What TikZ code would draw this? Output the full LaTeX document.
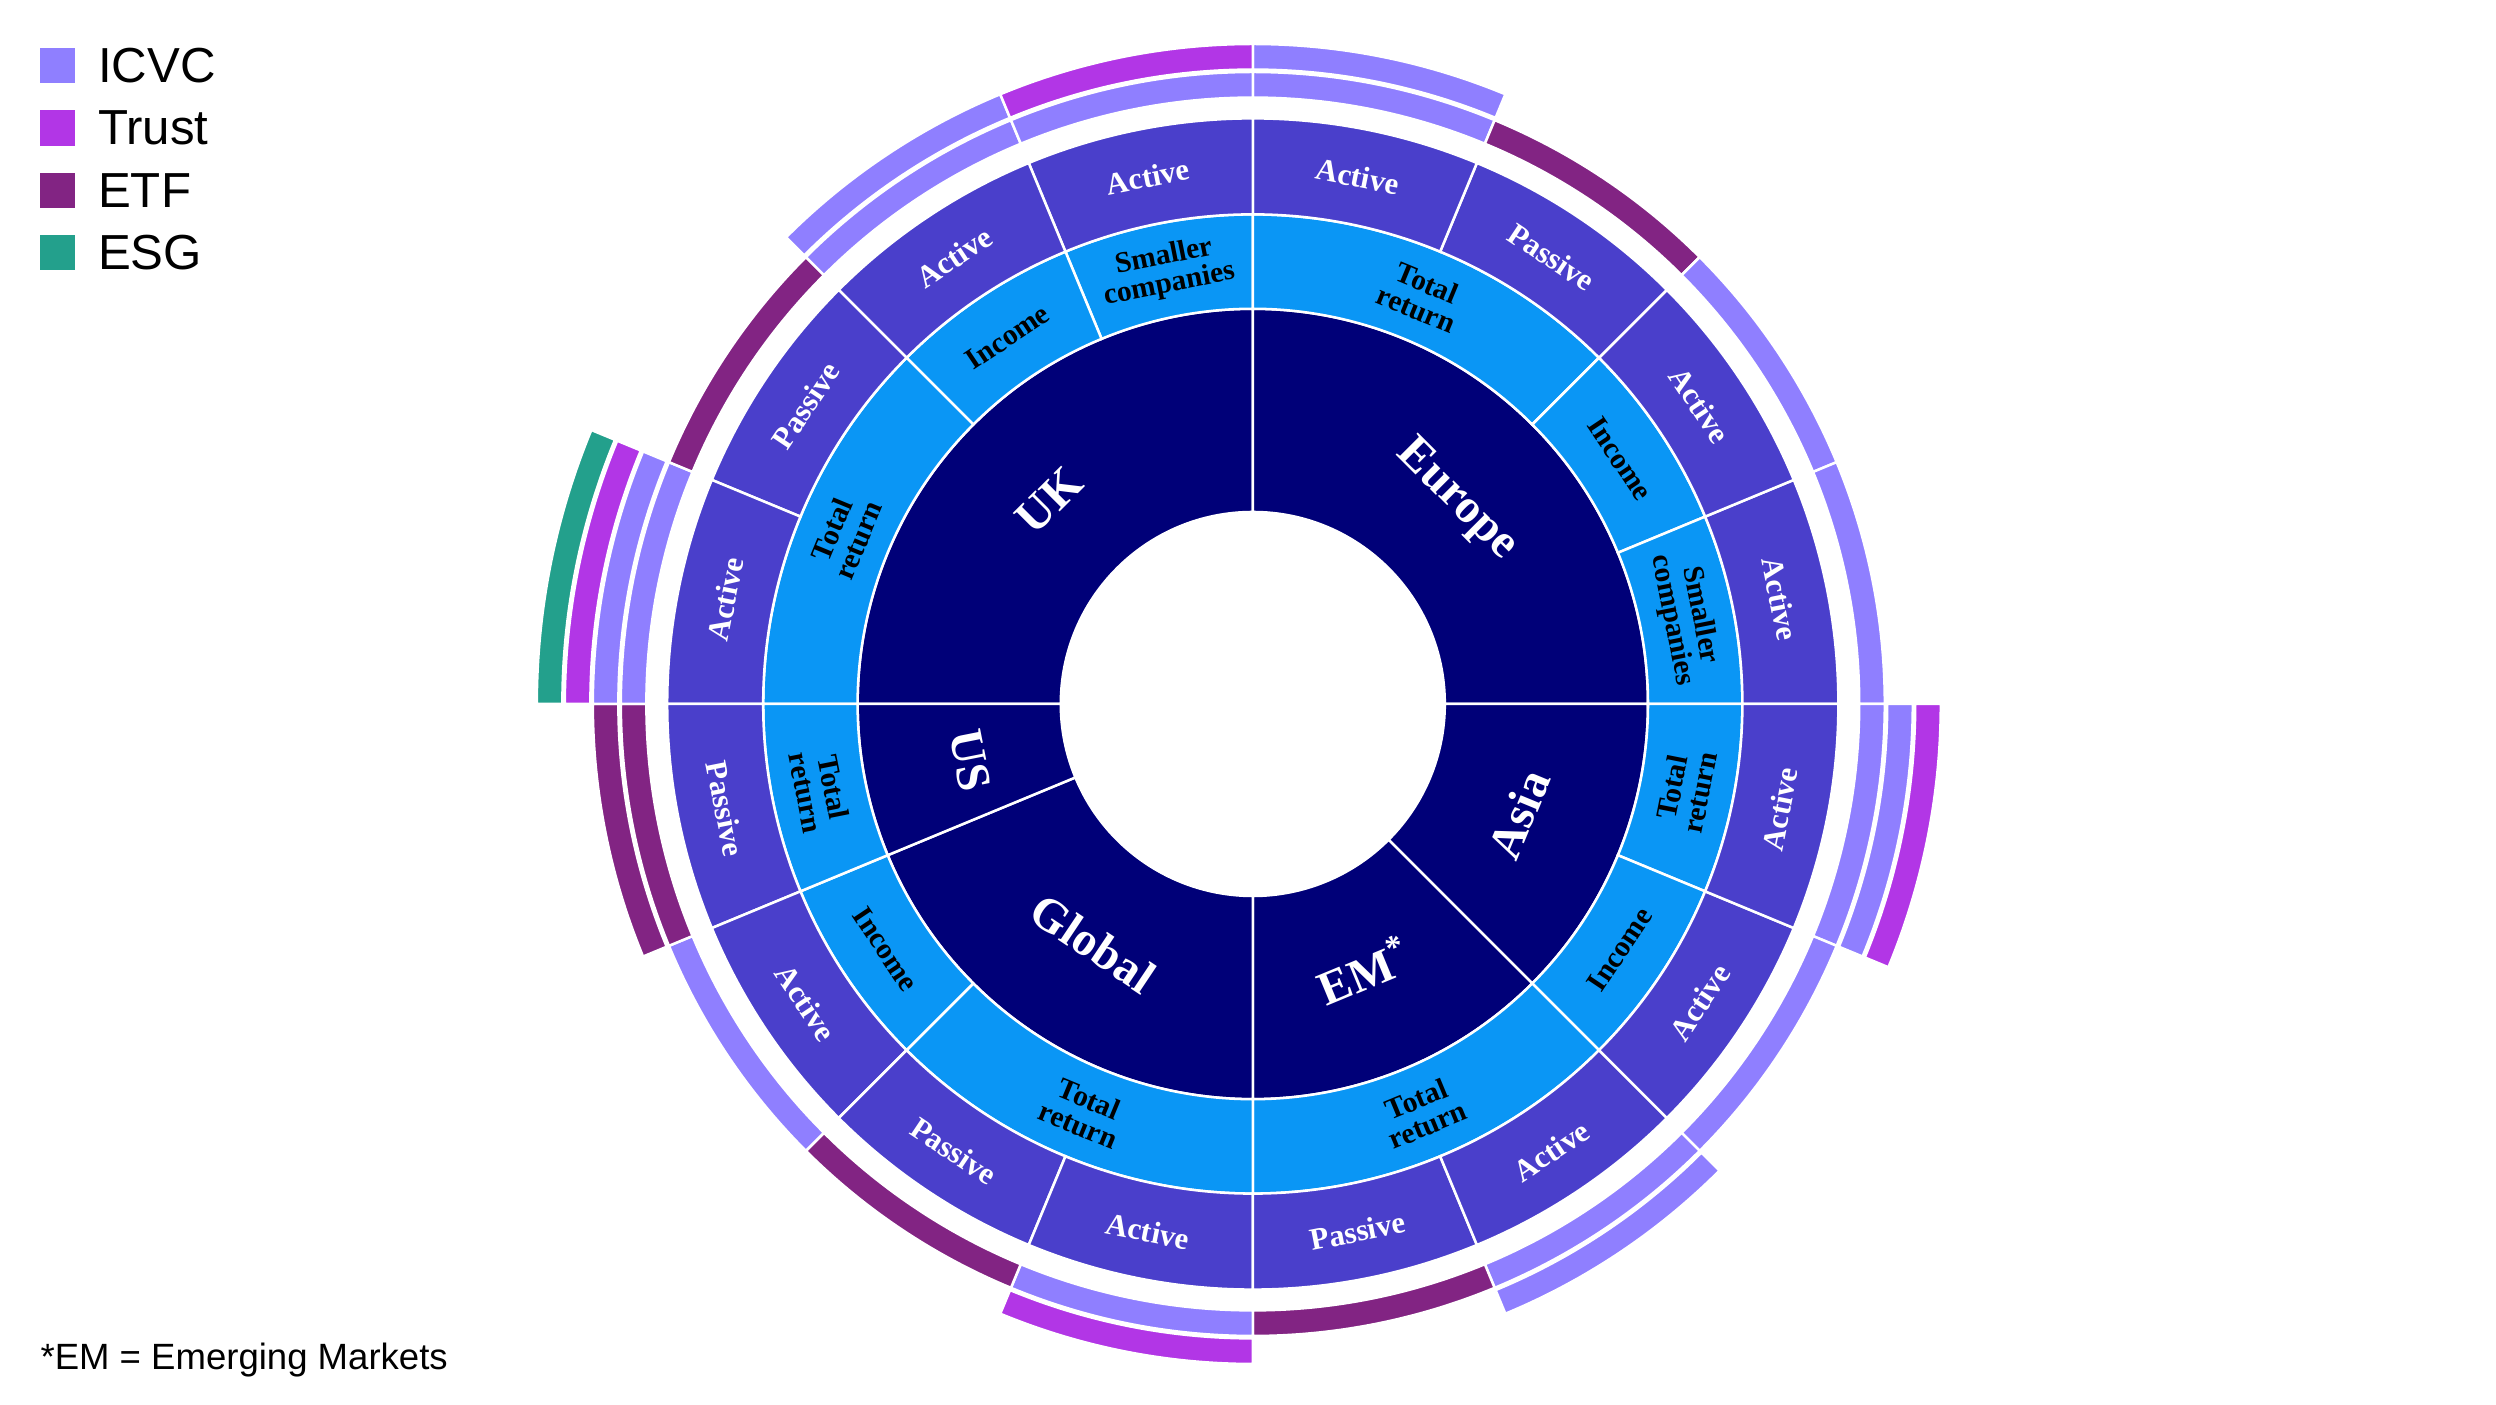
\documentclass[tikz,border=0pt]{standalone}
\usepackage{fontspec}
\setmainfont{Liberation Serif}
\newfontfamily\legfont{Liberation Sans}
\definecolor{navy}{HTML}{000078}
\definecolor{lblue}{HTML}{0A96F5}
\definecolor{ringp}{HTML}{4A3FCB}
\definecolor{icvc}{HTML}{8F7FFF}
\definecolor{trust}{HTML}{B236E6}
\definecolor{etf}{HTML}{822483}
\definecolor{esg}{HTML}{23A08C}
\newcommand\wedgeseg[5]{\filldraw[fill=#5,draw=white,line width=0.9pt] (#1:#3) arc[start angle=#1,end angle=#2,radius=#3] -- (#2:#4) arc[start angle=#2,end angle=#1,radius=#4] -- cycle;}
\newcommand\bandseg[4]{%
  \pgfmathsetmacro\bi{379+17.5*(#3-1)}\pgfmathsetmacro\bo{\bi+16}%
  \wedgeseg{#1}{#2}{\bi}{\bo}{#4}}
\tikzset{
  toplab/.style={font=\bfseries\fontsize{11}{12}\selectfont,text=white,inner sep=1pt},
  midlab/.style={font=\bfseries\fontsize{10.5}{10}\selectfont,text=black,align=center,inner sep=1pt},
  reglab/.style={font=\bfseries\fontsize{17}{18}\selectfont,text=white,inner sep=1pt},
  legsq/.style={fill=#1,minimum size=12.5pt,inner sep=0pt},
  legtxt/.style={font=\legfont\fontsize{17.5}{18}\selectfont,anchor=west,inner sep=0pt}
}
\begin{document}
\begin{tikzpicture}[x=0.02cm,y=0.02cm]
\useasboundingbox (0,0) rectangle (1560,878);
\begin{scope}[shift={(783,438)}]
\wedgeseg{90}{180}{120}{247}{navy}
\wedgeseg{0}{90}{120}{247}{navy}
\wedgeseg{-45}{0}{120}{247}{navy}
\wedgeseg{-90}{-45}{120}{247}{navy}
\wedgeseg{-157.5}{-90}{120}{247}{navy}
\wedgeseg{-180}{-157.5}{120}{247}{navy}
\foreach \a/\b in {90/112.5,112.5/135,135/180,45/90,22.5/45,0/22.5,-22.5/0,-45/-22.5,-90/-45,-135/-90,-157.5/-135,-180/-157.5}
  {\wedgeseg{\a}{\b}{247}{306}{lblue}}
\foreach \i in {0,...,15}{\pgfmathsetmacro\a{22.5*\i}\pgfmathsetmacro\b{\a+22.5}\wedgeseg{\a}{\b}{306}{366}{ringp}}
\bandseg{67.5}{90}{1}{icvc}\bandseg{67.5}{90}{2}{icvc}
\bandseg{45}{67.5}{1}{etf}
\bandseg{22.5}{45}{1}{icvc}
\bandseg{0}{22.5}{1}{icvc}
\bandseg{-22.5}{0}{1}{icvc}\bandseg{-22.5}{0}{2}{icvc}\bandseg{-22.5}{0}{3}{trust}
\bandseg{-45}{-22.5}{1}{icvc}
\bandseg{-67.5}{-45}{1}{icvc}\bandseg{-67.5}{-45}{2}{icvc}
\bandseg{-90}{-67.5}{1}{etf}
\bandseg{-112.5}{-90}{1}{icvc}\bandseg{-112.5}{-90}{2}{trust}
\bandseg{-135}{-112.5}{1}{etf}
\bandseg{-157.5}{-135}{1}{icvc}
\bandseg{-180}{-157.5}{1}{etf}\bandseg{-180}{-157.5}{2}{etf}
\bandseg{157.5}{180}{1}{icvc}\bandseg{157.5}{180}{2}{icvc}\bandseg{157.5}{180}{3}{trust}\bandseg{157.5}{180}{4}{esg}
\bandseg{135}{157.5}{1}{etf}
\bandseg{112.5}{135}{1}{icvc}\bandseg{112.5}{135}{2}{icvc}
\bandseg{90}{112.5}{1}{icvc}\bandseg{90}{112.5}{2}{trust}
\node[reglab,rotate=45] (uk) at (135:180) {UK};
\node[reglab,rotate=-45] (eu) at (45:180) {Europe};
\node[reglab,rotate=67.5] (as) at (-22.5:180) {Asia};
\node[reglab,rotate=22.5] (em) at (-67.5:180) {EM\textsuperscript{*}};
\node[reglab,rotate=-33.75] (gl) at (-123.75:180) {Global};
\node[reglab,rotate=-78.75] (us) at (-168.75:180) {US};
\node[midlab,rotate=11.25] (m1) at (101.25:276) {Smaller\\companies};
\node[midlab,rotate=33.75] (m2) at (123.75:276) {Income};
\node[midlab,rotate=67.5] (m3) at (157.5:276) {Total\\return};
\node[midlab,rotate=-22.5] (m4) at (67.5:276) {Total\\return};
\node[midlab,rotate=-56.25] (m5) at (33.75:276) {Income};
\node[midlab,rotate=-78.75] (m6) at (11.25:276) {Smaller\\companies};
\node[midlab,rotate=78.75] (m7) at (-11.25:276) {Total\\return};
\node[midlab,rotate=56.25] (m8) at (-33.75:276) {Income};
\node[midlab,rotate=22.5] (m9) at (-67.5:276) {Total\\return};
\node[midlab,rotate=-22.5] (m10) at (-112.5:276) {Total\\return};
\node[midlab,rotate=-56.25] (m11) at (-146.25:276) {Income};
\node[midlab,rotate=-78.75] (m12) at (-168.75:276) {Total\\return};
\foreach \ang/\txt [count=\k] in {78.75/Active,56.25/Passive,33.75/Active,11.25/Active,-11.25/Active,-33.75/Active,-56.25/Active,-78.75/Passive,-101.25/Active,-123.75/Passive,-146.25/Active,-168.75/Passive,168.75/Active,146.25/Passive,123.75/Active,101.25/Active}{
  \pgfmathsetmacro\rot{\ang>0 ? \ang-90 : \ang+90}
  \node[toplab,rotate=\rot] (o\k) at (\ang:336) {\txt};
}
\end{scope}
\node[legsq=icvc] (s1) at (36,837) {};
\node[legsq=trust] (s2) at (36,798) {};
\node[legsq=etf] (s3) at (36,759) {};
\node[legsq=esg] (s4) at (36,720) {};
\node[legtxt] (t1) at (61,837) {ICVC};
\node[legtxt] (t2) at (61,798) {Trust};
\node[legtxt] (t3) at (61,759) {ETF};
\node[legtxt] (t4) at (61,720) {ESG};
\node[font=\legfont\fontsize{13}{14}\selectfont,anchor=west,inner sep=0pt] (fn) at (25,28) {*EM = Emerging Markets};
\end{tikzpicture}
\end{document}
